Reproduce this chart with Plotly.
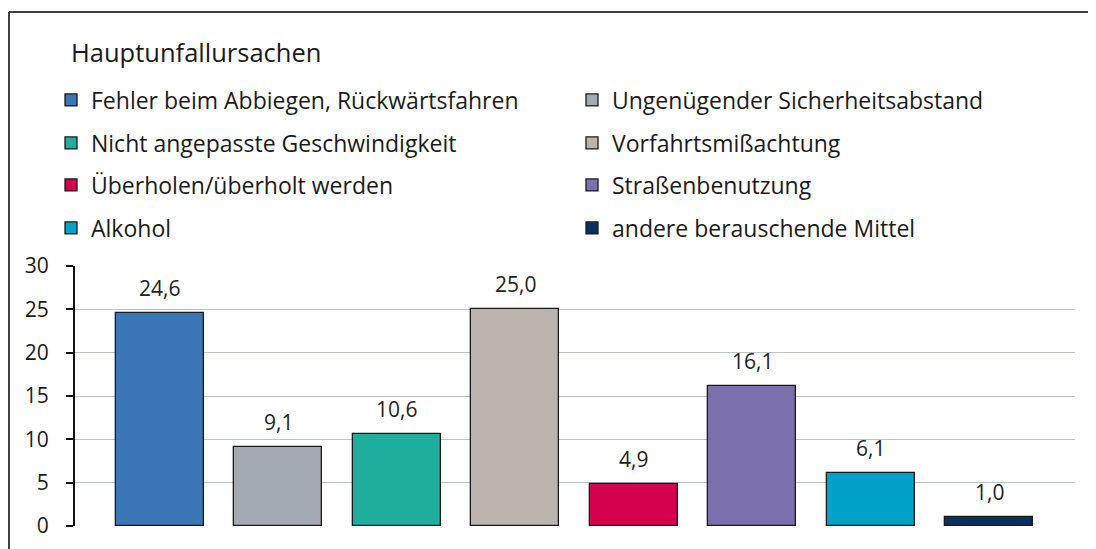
import plotly.graph_objects as go

categories = [
    "Fehler beim Abbiegen, Rückwärtsfahren",
    "Ungenügender Sicherheitsabstand",
    "Nicht angepasste Geschwindigkeit",
    "Vorfahrtsmißachtung",
    "Überholen/überholt werden",
    "Straßenbenutzung",
    "Alkohol",
    "andere berauschende Mittel",
]
values = [24.6, 9.1, 10.6, 25.0, 4.9, 16.1, 6.1, 1.0]
colors = ["#3b76b6", "#a4aab2", "#1fae9b", "#bbb3ad", "#d5004e", "#7b6fad", "#00a1c9", "#0b2f62"]
y_ticks = [0, 5, 10, 15, 20, 25, 30]

# page offset introduced by the default body margin
OFF = 8
W, H = 1096, 549
L = 75 - OFF
T = 266 - OFF
R = W - (1075 - OFF)
B = H - (526 - OFF)
pw, ph = W - L - R, H - T - B

def px_x(px):
    return (px - OFF - L) / pw

def px_y(py):
    return (H - B - (py - OFF)) / ph

FONT = "Open Sans"
fig = go.Figure()
leg_layout = {}
col_x = [92 - 41, 613 - 41]
row_y = [100, 143, 185, 228]
for i, (name, v, c) in enumerate(zip(categories, values, colors)):
    lname = "legend" if i == 0 else f"legend{i+1}"
    fig.add_trace(go.Bar(
        x=[i], y=[v], name=name,
        marker=dict(color=c, line=dict(color="#1a1a1a", width=1.3)),
        width=0.743,
        legend=lname,
        showlegend=True,
    ))
    fig.add_annotation(x=i, y=v, xref="x", yref="y",
                       text=f"{v:.1f}".replace(".", ","), showarrow=False,
                       yanchor="bottom", yshift=9,
                       font=dict(size=21, color="#222222", family=FONT))
    leg_layout[lname] = dict(
        x=px_x(col_x[i % 2]), y=px_y(row_y[i // 2]),
        xanchor="left", yanchor="middle",
        bgcolor="rgba(0,0,0,0)", borderwidth=0,
        font=dict(size=23, color="#1a1a1a", family=FONT),
        itemclick=False, itemdoubleclick=False,
    )

fig.update_layout(
    width=W, height=H,
    margin=dict(l=L, r=R, t=T, b=B, autoexpand=False),
    paper_bgcolor="white", plot_bgcolor="white",
    font=dict(family=FONT, color="#1a1a1a"),
    title=dict(text="Hauptunfallursachen", x=(71 - OFF) / W, xanchor="left",
               y=1 - (53 - OFF) / H, yanchor="middle",
               font=dict(size=25.5, color="#1a1a1a", family=FONT)),
    bargap=0,
    showlegend=True,
    **leg_layout,
)
fig.update_xaxes(range=[-0.717, 7.722], showticklabels=False, showgrid=False,
                 zeroline=False, showline=False, ticks="", fixedrange=True)
fig.update_yaxes(range=[0, 30], tickvals=y_ticks, ticktext=[str(t) for t in y_ticks],
                 showgrid=True, gridcolor="#bcc2ca", gridwidth=1.3,
                 zeroline=False, showline=True, linecolor="#111111", linewidth=2,
                 ticks="outside", ticklen=7, tickwidth=2, tickcolor="#111111",
                 tickfont=dict(size=21, color="#1a1a1a", family=FONT),
                 ticklabelstandoff=13, fixedrange=True)
# outer frame: only the left and top edges fall inside the canvas (pixel-sized)
frame = dict(color="#404040", width=2)
fig.add_shape(type="line", xref="paper", yref="paper",
              xsizemode="pixel", ysizemode="pixel", xanchor=0, yanchor=1,
              x0=9 - OFF - L, x1=9 - OFF - L, y0=T - (12 - OFF), y1=-(H + 20), line=frame)
fig.add_shape(type="line", xref="paper", yref="paper",
              xsizemode="pixel", ysizemode="pixel", xanchor=0, yanchor=1,
              x0=9 - OFF - L, x1=W + 20, y0=T - (12 - OFF), y1=T - (12 - OFF), line=frame)

fig.write_html("out.html")
